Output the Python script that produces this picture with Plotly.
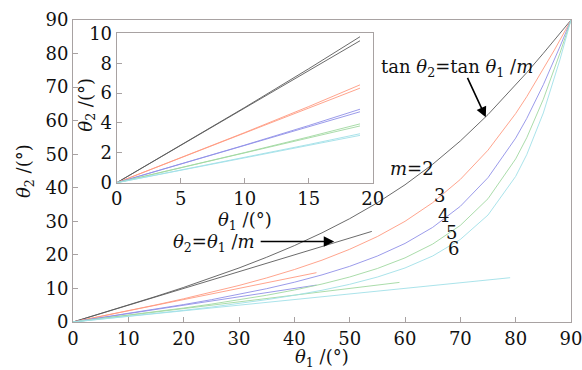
import plotly.graph_objects as go

# ---------------- data ----------------
theta1 = [0, 5, 10, 15, 20, 25, 30, 35, 40, 45, 50, 55, 60, 65, 70, 75, 80, 82, 85, 87, 88, 90]
curve_m2 = [0, 2.51, 5.04, 7.63, 10.31, 13.13, 16.10, 19.30, 22.76, 26.57, 30.79, 35.53, 40.89, 47.00, 53.95, 61.81, 70.57, 74.30, 80.07, 84.02, 86.00, 90]
curve_m3 = [0, 1.67, 3.36, 5.10, 6.92, 8.84, 10.89, 13.14, 15.63, 18.43, 21.67, 25.46, 30.00, 35.56, 42.49, 51.21, 62.12, 67.14, 75.29, 81.07, 84.02, 90]
curve_m4 = [0, 1.25, 2.52, 3.83, 5.20, 6.65, 8.21, 9.93, 11.85, 14.04, 16.59, 19.65, 23.41, 28.20, 34.48, 43.02, 54.80, 60.65, 70.71, 78.16, 82.05, 90]
curve_m5 = [0, 1.00, 2.02, 3.07, 4.16, 5.33, 6.59, 7.97, 9.53, 11.31, 13.41, 15.94, 19.11, 23.22, 28.79, 36.74, 48.60, 54.90, 66.38, 75.32, 80.10, 90]
curve_m6 = [0, 0.84, 1.68, 2.56, 3.47, 4.44, 5.50, 6.66, 7.96, 9.46, 11.23, 13.39, 16.10, 19.67, 24.60, 31.88, 43.39, 49.86, 62.30, 72.55, 78.17, 90]

# straight lines theta2 = theta1/m : (start, end) points
line_x = {"2": [0, 54], "3": [0, 44], "4": [0, 44], "5": [0, 59], "6": [0, 79]}
line_y = {"2": [0, 27.0], "3": [0, 14.7], "4": [0, 11.0], "5": [0, 11.8], "6": [0, 13.2]}

# inset data
inset_x = [0, 5, 10, 15, 19]
inset_curve = {
    "2": [0, 2.51, 5.04, 7.63, 9.77],
    "3": [0, 1.67, 3.36, 5.10, 6.55],
    "4": [0, 1.25, 2.52, 3.83, 4.92],
    "5": [0, 1.00, 2.02, 3.07, 3.94],
    "6": [0, 0.84, 1.68, 2.56, 3.28],
}
inset_line = {
    "2": [0, 2.50, 5.00, 7.50, 9.50],
    "3": [0, 1.67, 3.33, 5.00, 6.33],
    "4": [0, 1.25, 2.50, 3.75, 4.75],
    "5": [0, 1.00, 2.00, 3.00, 3.80],
    "6": [0, 0.83, 1.67, 2.50, 3.17],
}

m_labels = ["2", "3", "4", "5", "6"]
colors = {"2": "#5a5a5a", "3": "#ff9a80", "4": "#9090e8", "5": "#a0d8a0", "6": "#a0e0e8"}
curves = {"2": curve_m2, "3": curve_m3, "4": curve_m4, "5": curve_m5, "6": curve_m6}

FONT = "DejaVu Serif"
AXC = "#a8a2a2"
TXT = "#111"

fig = go.Figure()

for m in m_labels:
    fig.add_trace(go.Scatter(x=theta1, y=curves[m], mode="lines",
                             line=dict(color=colors[m], width=0.9), showlegend=False))
    fig.add_trace(go.Scatter(x=line_x[m], y=line_y[m], mode="lines",
                             line=dict(color=colors[m], width=0.9), showlegend=False))
    fig.add_trace(go.Scatter(x=inset_x, y=inset_curve[m], mode="lines", xaxis="x2", yaxis="y2",
                             line=dict(color=colors[m], width=0.9), showlegend=False))
    fig.add_trace(go.Scatter(x=inset_x, y=inset_line[m], mode="lines", xaxis="x2", yaxis="y2",
                             line=dict(color=colors[m], width=0.9), showlegend=False))

axis_common = dict(showgrid=False, zeroline=False, showline=True, linecolor=AXC, linewidth=1,
                   mirror=True, ticks="inside", ticklen=5, tickcolor=AXC, automargin=False,
                   ticklabeloverflow="allow",
                   tickfont=dict(family=FONT, size=18, color=TXT))

fig.update_layout(
    width=582, height=370,
    margin=dict(l=73, r=11, t=20, b=48, autoexpand=False),
    paper_bgcolor="white", plot_bgcolor="white",
    xaxis=dict(range=[0, 90], dtick=10, **axis_common),
    yaxis=dict(range=[0, 90], dtick=10, **axis_common),
    xaxis2=dict(range=[0, 20], dtick=5, domain=[0.0877, 0.602], anchor="y2", **axis_common),
    yaxis2=dict(range=[0, 10], dtick=2, domain=[0.461, 0.956], anchor="x2", **axis_common),
)

# white background for the inset
fig.add_shape(type="rect", xref="x2 domain", yref="y2 domain", x0=0, x1=1, y0=0, y1=1,
              fillcolor="white", line=dict(width=0), layer="below")

ann_font = dict(family=FONT, size=18, color=TXT)
t1 = "<i>θ</i><sub>1</sub> /(°)"
t2 = "<i>θ</i><sub>2</sub> /(°)"

# axis titles
fig.add_annotation(x=0.5, y=0, xref="x domain", yref="y domain", yshift=-36, text=t1,
                   showarrow=False, font=ann_font, yanchor="middle")
fig.add_annotation(x=0, y=0.5, xref="x domain", yref="y domain", xshift=-48, text=t2,
                   showarrow=False, font=ann_font, textangle=-90, xanchor="center")
fig.add_annotation(x=0.5, y=0, xref="x2 domain", yref="y2 domain", yshift=-38, text=t1,
                   showarrow=False, font=ann_font, yanchor="middle")
fig.add_annotation(x=0, y=0.5, xref="x2 domain", yref="y2 domain", xshift=-30, yshift=3, text=t2,
                   showarrow=False, font=ann_font, textangle=-90, xanchor="center")

# arrow 1: tan label -> m=2 curve
fig.add_annotation(x=74.6, y=61.0, xref="x", yref="y", ax=-19, ay=-41,
                   showarrow=True, arrowhead=2, arrowsize=1.3, arrowwidth=1.6, arrowcolor="#000", text="")
fig.add_annotation(x=69.4, y=75.6, xref="x", yref="y",
                   text="tan <i>θ</i><sub>2</sub>=tan <i>θ</i><sub>1</sub> /<i>m</i>",
                   showarrow=False, font=ann_font)
# arrow 2: theta2 = theta1/m -> straight line
fig.add_annotation(x=47.2, y=24.0, xref="x", yref="y", ax=-75, ay=0,
                   showarrow=True, arrowhead=2, arrowsize=1.3, arrowwidth=1.6, arrowcolor="#000", text="")
fig.add_annotation(x=25.5, y=23.5, xref="x", yref="y",
                   text="<i>θ</i><sub>2</sub>=<i>θ</i><sub>1</sub> /<i>m</i>",
                   showarrow=False, font=ann_font)

# m labels
fig.add_annotation(x=61.3, y=45.8, xref="x", yref="y", text="<i>m</i>=2", showarrow=False, font=ann_font)
fig.add_annotation(x=66.2, y=37.8, xref="x", yref="y", text="3", showarrow=False, font=ann_font)
fig.add_annotation(x=66.9, y=31.6, xref="x", yref="y", text="4", showarrow=False, font=ann_font)
fig.add_annotation(x=68.4, y=26.8, xref="x", yref="y", text="5", showarrow=False, font=ann_font)
fig.add_annotation(x=68.8, y=21.8, xref="x", yref="y", text="6", showarrow=False, font=ann_font)

fig.write_html("out.html", config={"displayModeBar": False},
               post_script="document.body.style.margin='0';document.body.style.padding='0';"
                           "document.body.style.overflow='hidden';")
